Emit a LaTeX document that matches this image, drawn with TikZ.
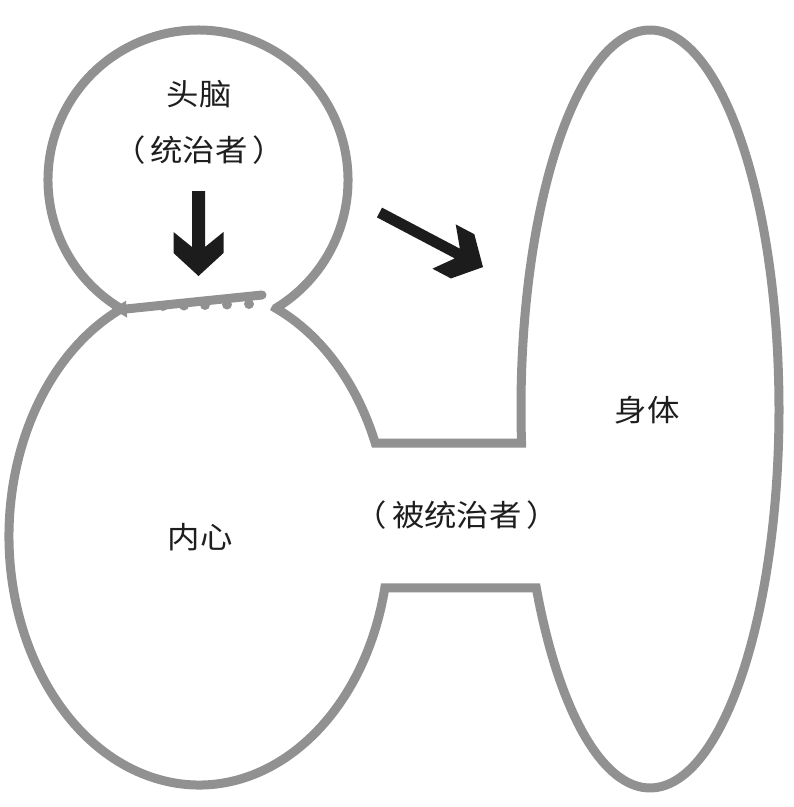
\documentclass[tikz,border=0pt]{standalone}
\usepackage{fontspec}
\newfontfamily\cjk[FakeStretch=1.08]{Noto Sans CJK SC}
\definecolor{linegray}{RGB}{145,145,145}
\definecolor{inkblack}{RGB}{28,28,28}
\definecolor{textblack}{RGB}{30,30,30}
\tikzset{
  outline/.style={draw=linegray, line width=9pt, line join=miter},
  neckline/.style={draw=linegray, line width=9pt, line cap=round},
  bump/.style={fill=linegray},
  bigarrow/.style={fill=inkblack},
  label/.style={font=\cjk\fontsize{30}{33}\selectfont, text=textblack, inner sep=0pt}
}
\begin{document}
\begin{tikzpicture}[x=1pt,y=1pt,yscale=-1]
\fill[white] (0,0) rectangle (794,807);
\useasboundingbox (0,0) rectangle (794,807);

% whole outline: lower body, bars, right ellipse, head
\draw[outline]
  ([shift={(199,536)}]-66.1:190 and 249) arc[start angle=-66.1, end angle=-21.93, x radius=190, y radius=249]
  -- ([shift={(650,409)}]174.85:129 and 379) arc[start angle=174.85, end angle=511.82, x radius=129, y radius=379]
  -- ([shift={(199,536)}]12.05:190 and 249) arc[start angle=12.05, end angle=246.1, x radius=190, y radius=249]
  -- ([shift={(198,180)}]120.4:150) arc[start angle=120.4, end angle=418.6, radius=150]
  -- cycle;

% neck line with bumps
\coordinate (neckA) at ([shift={(198,180)}]120.4:150);
\coordinate (neckB) at (262,295);
\draw[neckline] (neckA) -- (neckB);
\foreach \bx/\by in {163/306,184/305.5,205/305,227/304.5,249/304}
  \fill[bump] (\bx,\by) circle[radius=5];

% down arrow
\begin{scope}[shift={(198.5,191)}, rotate=90]
  \fill[bigarrow] (0,-6.5) -- (56,-6.5) -- (41,-25) -- (62,-25) -- (85,0)
    -- (62,25) -- (41,25) -- (56,6.5) -- (0,6.5) -- cycle;
\end{scope}

% diagonal arrow
\begin{scope}[shift={(379.5,212.5)}, rotate=27.8]
  \fill[bigarrow] (0,-5.5) -- (88,-5.5) -- (73,-25) -- (94,-25) -- (117,0)
    -- (94,25) -- (73,25) -- (88,5.5) -- (0,5.5) -- cycle;
\end{scope}

% labels
\node[label] (head) at (199,94) {头脑};
\node[label] (ruler) at (199,150) {（\hspace{5pt}统治者\hspace{5pt}）};
\node[label] (heart) at (200,537) {内心};
\node[label] (ruled) at (457,515) {（\hspace{5pt}被统治者\hspace{5pt}）};
\node[label] (body) at (647,410) {身体};
\end{tikzpicture}
\end{document}
